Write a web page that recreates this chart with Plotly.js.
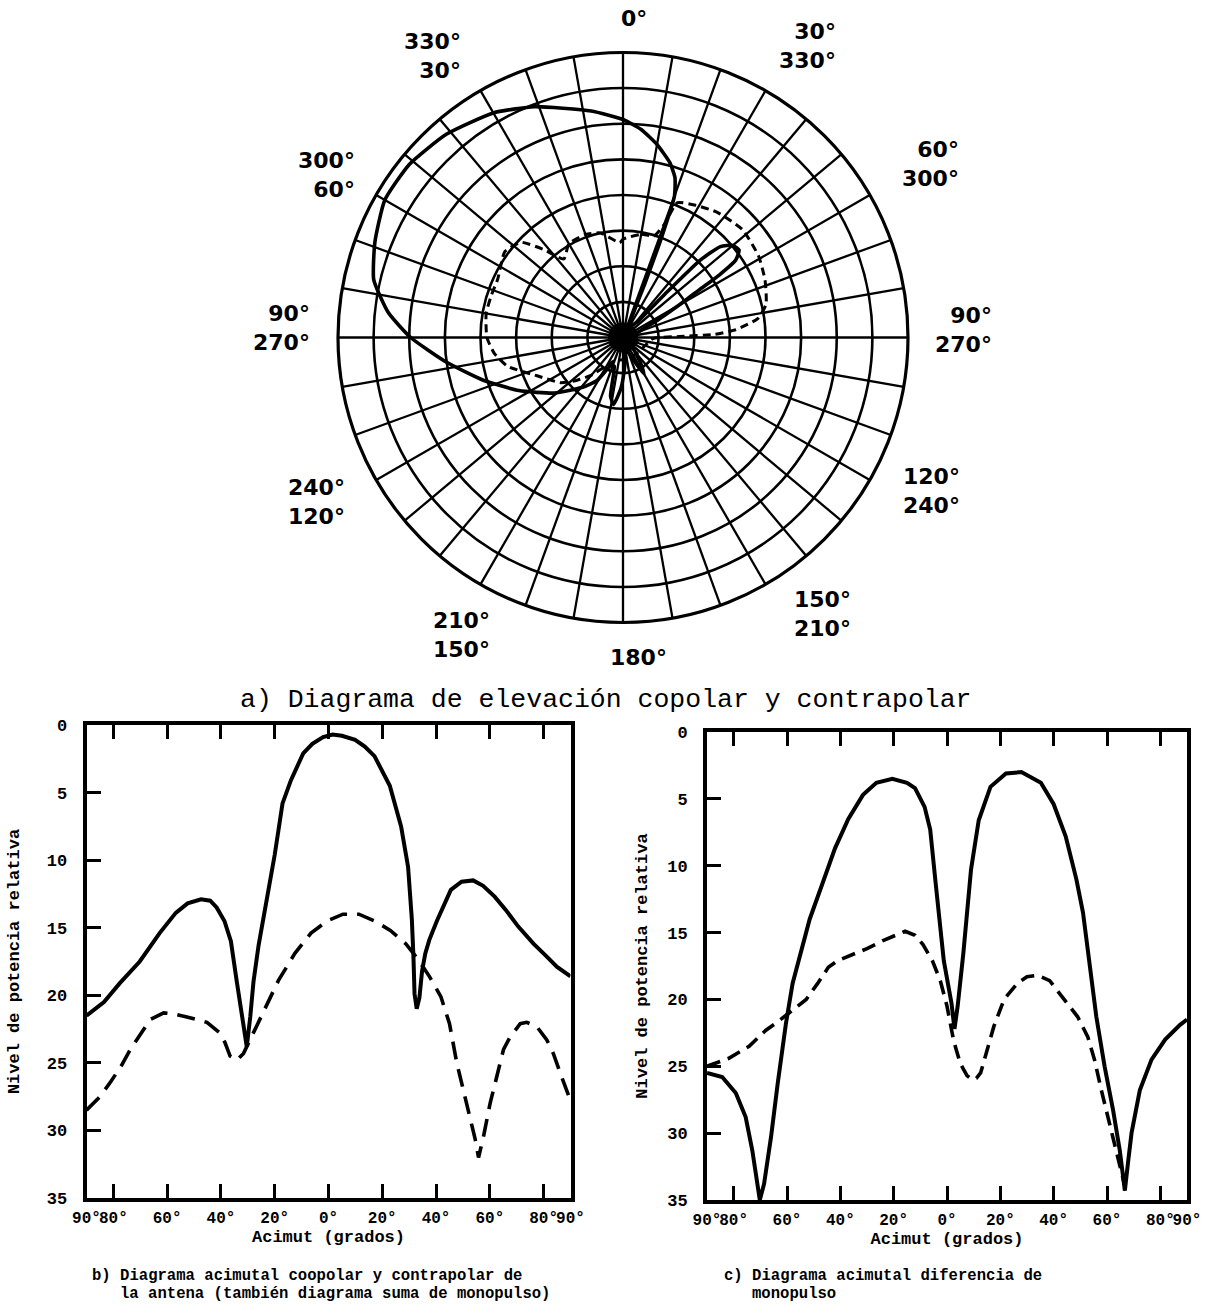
<!DOCTYPE html>
<html>
<head>
<meta charset="utf-8">
<script src="https://cdn.plot.ly/plotly-3.0.1.min.js"></script>
<style>html,body{margin:0;padding:0;background:#fff}#chart{width:1225px;height:1316px}</style>
</head>
<body>
<div id="chart"></div>
<script>
// ---------- (a) Elevation pattern, angle clockwise from top (deg), level (dB) ----------
const elevCopolarTheta = [0, 5, 10, 15, 18, 20, 21, 22, 24, 30, 36, 42, 44, 45, 47, 50, 53, 55.5, 57, 58, 60, 63, 68, 72, 90, 110, 130, 145, 150, 155, 165, 175, 182, 188, 192, 197, 203, 211, 219, 231, 243, 253, 262, 270, 276, 283, 291, 300, 309, 319, 330, 339, 352, 360];
const elevCopolarDb    = [-9.4, -10.7, -12.5, -14.6, -16.4, -18.9, -24.6, -31.6, -37.2, -38.3, -37.9, -37.2, -31.6, -24.6, -21.3, -19.9, -19.6, -20.8, -23.9, -27.4, -30.9, -34.4, -37.2, -37.9, -38.3, -37.9, -38.3, -35.8, -34.1, -36.5, -38.3, -36.5, -33.0, -30.5, -31.6, -35.8, -35.8, -33.0, -31.0, -27.6, -23.6, -19.5, -15.0, -10.2, -6.9, -4.1, -2.7, -1.4, -1.4, -2.2, -3.6, -5.3, -7.9, -9.4];
const elevCrossTheta = [0, 10, 17, 20, 22, 29, 37, 48, 59, 68, 77, 82, 86, 88, 89, 92, 120, 160, 200, 220, 227, 234, 246, 256, 263, 270, 280, 288, 295, 306, 313, 318, 323, 330, 340, 348, 358, 360];
const elevCrossDb    = [-26.2, -25.3, -25.1, -23.2, -19.6, -18.8, -18.0, -17.4, -17.8, -18.5, -19.4, -20.9, -24.1, -27.1, -32.1, -35.8, -36.9, -36.9, -36.5, -33.1, -31.2, -29.2, -26.8, -23.3, -21.8, -20.9, -20.5, -20.6, -20.6, -19.5, -20.4, -23.4, -26.2, -24.8, -24.6, -25.0, -26.7, -26.2];
const polarRingDb = [-35, -30, -25, -20, -15, -10, -5];

// ---------- (b) Azimuth copolar / contrapolar (sum) ----------
const bCopolarAz    = [-90, -83.5, -77.6, -70.2, -62.8, -56.8, -52.4, -47.4, -44, -41.6, -38.7, -36.3, -34.1, -31.8, -30.4, -29.1, -27.9, -26, -23, -20, -17.1, -14, -9.4, -6, -2, 1.5, 5, 9.9, 13.5, 17.1, 22.8, 27, 29.6, 31, 31.6, 32, 32.8, 33.8, 34.8, 36, 37.5, 40.3, 45.5, 49.5, 53.8, 57.5, 61.8, 66, 70.5, 76.3, 81, 85, 90];
const bCopolarLevel = [21.5, 20.5, 19.1, 17.5, 15.4, 13.9, 13.2, 12.9, 13.0, 13.5, 14.5, 16.0, 19.0, 21.9, 23.8, 21.6, 19.0, 16.3, 12.9, 9.6, 5.8, 4.1, 2.1, 1.4, 0.9, 0.7, 0.8, 1.1, 1.6, 2.3, 4.5, 7.5, 10.5, 14.4, 17.2, 19.9, 21.0, 20.2, 18.2, 16.9, 15.9, 14.5, 12.2, 11.6, 11.5, 11.9, 12.7, 13.7, 14.9, 16.2, 17.1, 17.9, 18.6];
const bCrossAz    = [-90, -85, -81, -77, -73.7, -70, -66.3, -61.3, -57, -52.7, -45.2, -40.3, -38.5, -36.6, -34.1, -31.6, -30.4, -27.5, -25, -22, -18.6, -12.5, -6.5, -0.5, 5.4, 11.3, 17.1, 23, 28.8, 33.2, 37.5, 41.8, 45, 47.7, 50.2, 52.7, 54.5, 55.8, 57.6, 60.1, 62.6, 65.1, 67.5, 71.3, 73.7, 77.4, 81.2, 83.6, 86.1, 90];
const bCrossLevel = [28.5, 27.5, 26.4, 25.2, 24.0, 22.9, 21.8, 21.3, 21.4, 21.6, 22.0, 22.8, 23.5, 24.5, 24.8, 24.3, 23.8, 22.5, 21.5, 20.3, 18.9, 16.9, 15.4, 14.5, 14.0, 14.0, 14.5, 15.2, 16.2, 17.3, 18.6, 20.1, 22.1, 25.0, 27.0, 29.0, 30.6, 32.0, 30.5, 28.0, 26.0, 24.0, 23.1, 22.1, 22.0, 22.3, 23.3, 24.3, 25.7, 27.8];

// ---------- (c) Azimuth monopulse difference ----------
const cDiffAz    = [-90, -84.3, -79.2, -75.5, -73, -71.1, -70.2, -68.6, -66, -63.5, -60.4, -57.9, -54.7, -51.5, -47, -42, -37, -31.5, -26.5, -20.5, -15, -12, -8.4, -6.3, -4.1, -1.2, 1.7, 2.8, 4, 6.1, 9, 11.9, 16.3, 22.1, 27.9, 35.2, 40, 44.5, 48.5, 51, 52.8, 56, 59.1, 62.3, 64.8, 66.7, 68, 69.2, 72.3, 76.7, 81.8, 87.4, 90];
const cDiffLevel = [25.5, 25.8, 27, 28.8, 31.3, 33.8, 35, 33.8, 30.3, 26.3, 21.8, 18.8, 16.3, 14, 11.5, 8.7, 6.5, 4.7, 3.8, 3.5, 3.8, 4.2, 5.6, 7.3, 11.6, 17.1, 20.3, 22.2, 20.5, 16.6, 10.3, 6.6, 4.1, 3.1, 3.0, 3.8, 5.4, 7.8, 11, 13.5, 16.3, 21.3, 25, 28.3, 31.3, 34.3, 32, 30, 26.8, 24.5, 23, 21.9, 21.5];
const cCrossAz    = [-90, -86, -81.8, -74.2, -67.9, -63, -59.1, -55.5, -52.8, -48.5, -44.5, -41, -36, -30, -24, -19.5, -15.7, -12, -9, -5.5, -2.5, 0, 2.5, 5, 7.5, 9.4, 11, 12.6, 15.1, 17.6, 21.4, 26.4, 30, 34, 38.5, 44, 49, 52.8, 55.3, 57.9, 60.4, 62.9, 65.4, 66.5];
const cCrossLevel = [25, 24.7, 24.4, 23.5, 22.3, 21.6, 21, 20.4, 20, 18.8, 17.6, 17.1, 16.7, 16.2, 15.6, 15.2, 14.9, 15.2, 15.9, 17.1, 18.6, 20.5, 23.1, 24.8, 25.7, 26, 25.9, 25.5, 23.8, 22, 20, 18.8, 18.3, 18.2, 18.6, 20, 21.3, 22.8, 24.5, 26.8, 28.8, 30.8, 32.8, 33.8];

// ---------- ticks & labels ----------
const azTickVals = [-90, -80, -60, -40, -20, 0, 20, 40, 60, 80, 90];
const azTickText = ['90°', '80°', '60°', '40°', '20°', '0°', '20°', '40°', '60°', '80°', '90°'];
const levelTicks = [0, 5, 10, 15, 20, 25, 30, 35];

// ---------- layout helpers ----------
const W = 1225, H = 1316;
const fx = p => p / W, fy = p => 1 - p / H;
const black = '#000';
const monoBold = {family: 'Liberation Mono, Courier New, monospace', size: 16, color: black, weight: 'bold'};
const tickBold = {family: 'Liberation Mono, Courier New, monospace', size: 17, color: black, weight: 'bold'};
const titleBold = {family: 'Liberation Mono, Courier New, monospace', size: 17, color: black, weight: 'bold'};
const polarFont = {family: 'DejaVu Sans, sans-serif', size: 22, color: black, weight: 'bold'};

function lab(text, x, y, anchor) {
  return {text: text, x: fx(x), y: fy(y), xref: 'paper', yref: 'paper', xanchor: anchor || 'right', yanchor: 'middle',
    align: anchor === 'center' ? 'center' : 'right', showarrow: false, font: polarFont};
}
function cap(text, x, y, font, anchor) {
  return {text: text, x: fx(x), y: fy(y), xref: 'paper', yref: 'paper', xanchor: anchor || 'left', yanchor: 'middle', showarrow: false, font: font};
}

const polarLabels = [
  lab('0°', 634, 18, 'center'),
  lab('330°<br>30°', 463, 56),
  lab('30°<br>330°', 838, 46),
  lab('300°<br>60°', 357, 175),
  lab('60°<br>300°', 961, 164),
  lab('90°<br>270°', 312, 328),
  lab('90°<br>270°', 994, 330),
  lab('240°<br>120°', 347, 502),
  lab('120°<br>240°', 962, 491),
  lab('210°<br>150°', 492, 635),
  lab('150°<br>210°', 853, 614),
  lab('180°', 638, 657, 'center')
];

const capFontA = {family: 'Liberation Mono, Courier New, monospace', size: 26.5, color: black};
const capFontB = {family: 'Liberation Mono, Courier New, monospace', size: 15.6, color: black, weight: 'bold'};
const captions = [
  cap('a) Diagrama de elevación copolar y contrapolar', 606, 700, capFontA, 'center'),
  cap('b) Diagrama acimutal coopolar y contrapolar de', 90, 1276, capFontB),
  cap('la antena (también diagrama suma de monopulso)', 118, 1294, capFontB),
  cap('c) Diagrama acimutal diferencia de', 722, 1276, capFontB),
  cap('monopulso', 750, 1294, capFontB)
];

function xAxis(domain, anchor) {
  return {domain: domain, anchor: anchor, range: [-90, 90], tickmode: 'array', tickvals: azTickVals, ticktext: azTickText,
    tickangle: 0, ticks: 'inside', ticklen: 14, tickwidth: 3, tickcolor: black, showline: true, linewidth: 4, linecolor: black,
    mirror: 'ticks', showgrid: false, zeroline: false, tickfont: monoBold, ticklabelstandoff: 2,
    title: {text: 'Acimut (grados)', font: titleBold, standoff: 4}, automargin: false, fixedrange: true};
}
function yAxis(domain, anchor, standoff) {
  return {domain: domain, anchor: anchor, range: [35, 0], tickmode: 'array', tickvals: levelTicks,
    ticks: 'inside', ticklen: 14, tickwidth: 3, tickcolor: black, showline: true, linewidth: 4, linecolor: black,
    mirror: true, showgrid: false, zeroline: false, tickfont: tickBold, ticklabelstandoff: 12,
    title: {text: 'Nivel de potencia relativa', font: titleBold, standoff: standoff}, automargin: false, fixedrange: true};
}

const traces = [
  {type: 'scatterpolar', subplot: 'polar', theta: elevCopolarTheta, r: elevCopolarDb, mode: 'lines',
   line: {color: black, width: 3.6, shape: 'spline', smoothing: 0.5}, name: 'Copolar', hoverinfo: 'skip'},
  {type: 'scatterpolar', subplot: 'polar', theta: elevCrossTheta, r: elevCrossDb, mode: 'lines',
   line: {color: black, width: 3, dash: '8px,5px', shape: 'spline', smoothing: 0.5}, name: 'Contrapolar', hoverinfo: 'skip'},
  {type: 'scatterpolar', subplot: 'polar', theta: [0], r: [-40], mode: 'markers',
   marker: {color: black, size: 30}, hoverinfo: 'skip', cliponaxis: false},
  {type: 'scatter', x: bCopolarAz, y: bCopolarLevel, xaxis: 'x', yaxis: 'y', mode: 'lines',
   line: {color: black, width: 4}, name: 'Copolar', hoverinfo: 'skip'},
  {type: 'scatter', x: bCrossAz, y: bCrossLevel, xaxis: 'x', yaxis: 'y', mode: 'lines',
   line: {color: black, width: 3.6, dash: '18px,10px'}, name: 'Contrapolar', hoverinfo: 'skip'},
  {type: 'scatter', x: cDiffAz, y: cDiffLevel, xaxis: 'x2', yaxis: 'y2', mode: 'lines',
   line: {color: black, width: 4}, name: 'Diferencia', hoverinfo: 'skip'},
  {type: 'scatter', x: cCrossAz, y: cCrossLevel, xaxis: 'x2', yaxis: 'y2', mode: 'lines',
   line: {color: black, width: 3.6, dash: '14px,8px'}, name: 'Contrapolar', hoverinfo: 'skip'}
];

const layout = {
  width: W, height: H, margin: {l: 0, r: 0, t: 0, b: 0}, showlegend: false,
  paper_bgcolor: '#fff', plot_bgcolor: '#fff',
  font: {family: 'Liberation Mono, monospace', color: black},
  polar: {
    domain: {x: [fx(338), fx(908)], y: [fy(622.5), fy(52.5)]},
    bgcolor: '#fff', hole: 0,
    radialaxis: {range: [-40, 0], tickmode: 'array', tickvals: polarRingDb, showticklabels: false, ticks: '',
      showline: false, gridcolor: black, gridwidth: 2.6},
    angularaxis: {rotation: 90, direction: 'clockwise', tickmode: 'linear', tick0: 0, dtick: 10,
      showticklabels: false, ticks: '', showline: true, linecolor: black, linewidth: 3.2,
      gridcolor: black, gridwidth: 2.3}
  },
  xaxis: xAxis([fx(86.5), fx(570.5)], 'y'),
  yaxis: yAxis([fy(1198), fy(725)], 'x', 24),
  xaxis2: xAxis([fx(707), fx(1187)], 'y2'),
  yaxis2: yAxis([fy(1200), fy(732)], 'x2', 16),
  annotations: polarLabels.concat(captions)
};

Plotly.newPlot('chart', traces, layout, {staticPlot: true, displayModeBar: false});
</script>
</body>
</html>
